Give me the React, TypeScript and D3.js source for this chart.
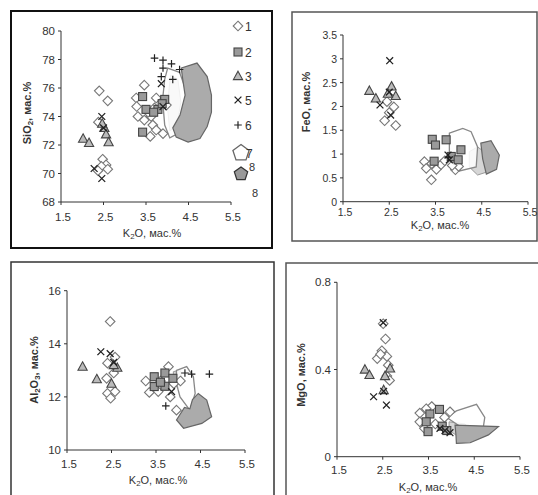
import React from 'react';
import * as d3 from 'd3';

type Pt = [number, number];

// K2O axis, shared by all four plots
const k2oTicks = [1.5, 2.5, 3.5, 4.5, 5.5];

// SiO2 vs K2O
const sio2Ticks = [68, 70, 72, 74, 76, 78, 80];
const sio2S1: Pt[] = [
  [2.40, 75.8], [2.60, 75.1], [2.38, 73.6], [2.48, 71.0], [2.56, 70.6], [2.45, 70.5], [2.60, 70.3], [2.37, 70.2],
  [3.46, 76.2], [3.27, 75.3], [3.28, 74.7], [3.31, 74.0], [3.46, 73.75], [3.62, 74.0], [3.66, 73.4], [3.70, 74.6],
  [3.74, 75.3], [3.74, 73.05], [3.90, 72.8], [3.60, 72.6], [3.98, 74.8], [3.55, 74.3],
];
const sio2S2: Pt[] = [[3.42, 75.4], [3.50, 74.5], [3.42, 72.9], [3.78, 74.5], [3.94, 75.2], [3.68, 74.3], [3.88, 74.9]];
const sio2S3: Pt[] = [[2.02, 72.45], [2.16, 72.15], [2.52, 73.2], [2.56, 72.75], [2.62, 72.2], [2.47, 73.5]];
const sio2S5: Pt[] = [[2.46, 74.0], [2.50, 73.2], [2.28, 70.35], [2.46, 69.65], [3.86, 76.3], [3.90, 74.7]];
const sio2S6: Pt[] = [[3.70, 78.1], [3.90, 77.95], [4.10, 77.7], [3.90, 77.4], [3.86, 76.8], [4.13, 76.6], [4.29, 77.3]];
const sio2P7: Pt[] = [[4.01, 77.4], [4.29, 77.1], [4.48, 75.5], [4.36, 73.75], [4.25, 72.8], [4.06, 72.5], [3.94, 73.4], [3.89, 75.2], [3.94, 76.6]];
const sio2P8a: Pt[] = [[4.08, 76.9], [4.25, 76.6], [4.32, 75.0], [4.22, 73.3], [4.06, 73.0], [4.00, 74.8]];
const sio2P8b: Pt[] = [
  [4.33, 77.4], [4.70, 77.75], [4.94, 76.8], [5.04, 75.5], [5.04, 74.3], [4.94, 73.3], [4.77, 72.45],
  [4.49, 72.2], [4.21, 72.55], [4.13, 73.2], [4.30, 74.1], [4.42, 75.5], [4.36, 76.7],
];

// FeO vs K2O
const feoTicks = [0, 0.5, 1, 1.5, 2, 2.5, 3, 3.5];
const feoS1: Pt[] = [
  [2.40, 1.70], [2.64, 1.60], [2.60, 1.99], [2.45, 2.10], [2.50, 1.87],
  [3.26, 0.84], [3.30, 0.70], [3.41, 0.46], [3.52, 0.68], [3.62, 0.78], [3.93, 0.67], [4.00, 0.74], [3.70, 0.86], [3.86, 0.76], [3.42, 0.80],
];
const feoS2: Pt[] = [[3.43, 1.31], [3.73, 1.30], [3.50, 1.19], [3.47, 0.85], [4.05, 1.09], [3.84, 0.95], [3.99, 0.88]];
const feoS3: Pt[] = [[2.07, 2.33], [2.21, 2.17], [2.55, 2.42], [2.64, 2.22], [2.47, 2.27]];
const feoS5: Pt[] = [[2.51, 2.96], [2.30, 2.03], [2.53, 1.82], [2.50, 2.30], [3.77, 0.98], [3.80, 0.88]];
const feoS6: Pt[] = [[3.78, 0.93]];
const feoP7: Pt[] = [[3.80, 1.44], [4.09, 1.54], [4.27, 1.47], [4.41, 1.15], [4.38, 0.73], [3.95, 0.63], [3.80, 0.88]];
const feoP8a: Pt[] = [[4.23, 1.05], [4.41, 1.15], [4.55, 1.05], [4.60, 0.62], [4.41, 0.56], [4.23, 0.73]];
const feoP8b: Pt[] = [[4.48, 1.23], [4.70, 1.28], [4.88, 0.98], [4.82, 0.68], [4.60, 0.58], [4.52, 0.90]];

// Al2O3 vs K2O
const al2o3Ticks = [10, 12, 14, 16];
const al2o3S1: Pt[] = [
  [2.47, 14.84], [2.41, 13.27], [2.58, 13.5], [2.39, 12.7], [2.41, 12.13], [2.48, 11.95], [2.58, 12.2], [2.55, 12.9],
  [3.27, 12.6], [3.35, 12.17], [3.78, 13.14], [3.82, 12.0], [3.96, 11.5], [3.60, 12.6], [3.55, 12.2], [3.90, 12.5], [4.05, 12.6],
];
const al2o3S2: Pt[] = [[3.46, 12.76], [3.70, 12.9], [3.46, 12.39], [3.70, 12.4], [3.88, 12.7], [3.60, 12.55]];
const al2o3S3: Pt[] = [[1.85, 13.14], [2.17, 12.67], [2.50, 12.5], [2.63, 13.1], [2.55, 13.2]];
const al2o3S5: Pt[] = [[2.26, 13.7], [2.47, 13.63], [2.55, 13.3], [3.85, 12.2]];
const al2o3S6: Pt[] = [[3.72, 11.66], [4.30, 12.86], [4.70, 12.86], [4.15, 12.9]];
const al2o3P7: Pt[] = [[3.96, 13.0], [4.19, 13.14], [4.34, 12.76], [4.38, 12.13], [4.26, 11.5], [4.04, 12.0], [3.96, 12.5]];
const al2o3P8a: Pt[] = [[3.89, 12.95], [4.04, 13.01], [4.10, 12.6], [4.00, 12.32], [3.89, 12.5]];
const al2o3P8b: Pt[] = [[3.96, 11.13], [4.14, 11.6], [4.26, 11.55], [4.32, 11.9], [4.45, 12.13], [4.64, 11.88], [4.75, 11.25], [4.53, 11.0], [4.12, 10.82]];

// MgO vs K2O
const mgoTicks = [0, 0.4, 0.8];
const mgoS1: Pt[] = [
  [2.51, 0.61], [2.56, 0.54], [2.48, 0.486], [2.38, 0.45], [2.59, 0.46], [2.62, 0.42], [2.59, 0.37], [2.65, 0.35], [2.45, 0.47],
  [3.31, 0.20], [3.57, 0.23], [3.31, 0.16], [3.41, 0.13], [3.97, 0.206], [3.85, 0.18], [3.65, 0.15], [3.45, 0.22],
];
const mgoS2: Pt[] = [[3.53, 0.196], [3.74, 0.217], [3.45, 0.16], [3.49, 0.115], [3.80, 0.14], [3.90, 0.12]];
const mgoS3: Pt[] = [[2.11, 0.40], [2.21, 0.375], [2.66, 0.405], [2.55, 0.37], [2.52, 0.306]];
const mgoS5: Pt[] = [[2.51, 0.615], [2.30, 0.275], [2.58, 0.237], [2.52, 0.30], [3.86, 0.12], [3.97, 0.11], [3.75, 0.13]];
const mgoP7: Pt[] = [[3.90, 0.18], [4.11, 0.21], [4.55, 0.24], [4.73, 0.18], [4.70, 0.138], [4.25, 0.13]];
const mgoP8a: Pt[] = [[3.95, 0.16], [4.30, 0.15], [4.40, 0.12], [4.10, 0.10], [3.95, 0.12]];
const mgoP8b: Pt[] = [[4.08, 0.145], [5.03, 0.138], [4.81, 0.10], [4.41, 0.064], [4.11, 0.061], [4.10, 0.10]];

const legendLabels = ['1', '2', '3', '5', '6', '7', '8'];

// axis title pieces: [text, isSubscript]
const sio2Name: [string, boolean][] = [['SiO', false], ['2', true], [', мас.%', false]];
const feoName: [string, boolean][] = [['FeO, мас.%', false]];
const al2o3Name: [string, boolean][] = [['Al', false], ['2', true], ['O', false], ['3', true], [', мас.%', false]];
const mgoName: [string, boolean][] = [['MgO, мас.%', false]];
const k2oName: [string, boolean][] = [['K', false], ['2', true], ['O, мас.%', false]];

const FONT = 'Arial, "Liberation Sans", sans-serif';

function Diamond({ x, y }) {
  const r = 4.8;
  return <path d={`M${x},${y - r}L${x + r},${y}L${x},${y + r}L${x - r},${y}Z`} fill="#fff" stroke="#777" strokeWidth={1.1} />;
}
function Square({ x, y }) {
  return <rect x={x - 4} y={y - 4} width={8} height={8} fill="#9a9a9a" stroke="#444" strokeWidth={1.1} />;
}
function Triangle({ x, y }) {
  return <path d={`M${x},${y - 4.8}L${x + 4.6},${y + 3.6}L${x - 4.6},${y + 3.6}Z`} fill="#bbb" stroke="#444" strokeWidth={1.1} />;
}
function Cross({ x, y }) {
  const r = 3.4;
  return <path d={`M${x - r},${y - r}L${x + r},${y + r}M${x + r},${y - r}L${x - r},${y + r}`} stroke="#222" strokeWidth={1.3} />;
}
function Plus({ x, y }) {
  const r = 3.8;
  return <path d={`M${x - r},${y}L${x + r},${y}M${x},${y - r}L${x},${y + r}`} stroke="#222" strokeWidth={1.2} />;
}

function pentagon(cx: number, cy: number, r: number) {
  return d3.range(5).map(i => {
    const a = -Math.PI / 2 + (i * 2 * Math.PI) / 5;
    return `${cx + r * Math.cos(a)},${cy + r * Math.sin(a)}`;
  }).join(' ');
}

function Rich({ parts, size }) {
  let shifted = false;
  return (
    <>
      {parts.map(([t, sub], i) => {
        let dy = 0;
        if (sub && !shifted) { dy = 2; shifted = true; }
        else if (!sub && shifted) { dy = -2; shifted = false; }
        return <tspan key={i} dy={dy} fontSize={sub ? size * 0.72 : size}>{t}</tspan>;
      })}
    </>
  );
}

function Panel({ cfg }) {
  const x = d3.scaleLinear().domain([1.5, 5.5]).range(cfg.xRange);
  const y = d3.scaleLinear().domain(cfg.yDomain).range(cfg.yRange);
  const [fx0, fy0, fx1, fy1] = cfg.frame;
  const line = d3.line<Pt>().x(d => x(d[0])).y(d => y(d[1])).curve(d3.curveLinearClosed);
  const ax = cfg.xRange[0];
  const ay = cfg.yRange[0];
  return (
    <g fontFamily={FONT}>
      <rect x={fx0} y={fy0} width={fx1 - fx0} height={fy1 - fy0} fill="#fff" stroke={cfg.frameColor} strokeWidth={cfg.frameWidth} />
      {/* polygons */}
      <path d={line(cfg.p8a)} fill="#d6d6d6" stroke="#999" strokeWidth={1} />
      <path d={line(cfg.p7)} fill="#fff" stroke="#888" strokeWidth={1.3} fillOpacity={0.85} />
      <path d={line(cfg.p8b)} fill="#ababab" stroke="#666" strokeWidth={1.2} />
      {/* points */}
      {cfg.s1.map((d, i) => <Diamond key={'a' + i} x={x(d[0])} y={y(d[1])} />)}
      {cfg.s2.map((d, i) => <Square key={'b' + i} x={x(d[0])} y={y(d[1])} />)}
      {cfg.s3.map((d, i) => <Triangle key={'c' + i} x={x(d[0])} y={y(d[1])} />)}
      {cfg.s5.map((d, i) => <Cross key={'d' + i} x={x(d[0])} y={y(d[1])} />)}
      {cfg.s6.map((d, i) => <Plus key={'e' + i} x={x(d[0])} y={y(d[1])} />)}
      {/* axes */}
      <g stroke="#333" strokeWidth={1}>
        <line x1={ax} x2={cfg.xRange[1]} y1={ay} y2={ay} />
        <line x1={ax} x2={ax} y1={ay} y2={cfg.yRange[1]} />
        {k2oTicks.map(t => <line key={t} x1={x(t)} x2={x(t)} y1={ay} y2={ay + 3} />)}
        {cfg.yTicks.map(t => <line key={t} x1={ax - 3} x2={ax} y1={y(t)} y2={y(t)} />)}
      </g>
      <g fill="#333" fontSize={cfg.tickSize}>
        {k2oTicks.map(t => (
          <text key={t} x={x(t) + 2} y={ay + cfg.xLabelDy} textAnchor="middle">{t.toFixed(1)}</text>
        ))}
        {cfg.yTicks.map(t => (
          <text key={t} x={ax - 6} y={y(t) + 4} textAnchor="end">{String(t)}</text>
        ))}
      </g>
      <text x={cfg.xTitle[0]} y={cfg.xTitle[1]} textAnchor="middle" fill="#333">
        <Rich parts={k2oName} size={11} />
      </text>
      <text transform={`translate(${cfg.yTitle[0]},${cfg.yTitle[1]}) rotate(-90)`} textAnchor="middle" fontWeight="bold" fill="#333">
        <Rich parts={cfg.yName} size={11} />
      </text>
    </g>
  );
}

function Legend() {
  const rows = [26, 52, 76, 100, 125];
  const mk = [Diamond, Square, Triangle, Cross, Plus];
  return (
    <g fontFamily={FONT} fontSize={12} fill="#333">
      {rows.map((ry, i) => {
        const M = mk[i];
        return (
          <g key={i}>
            <M x={238} y={ry} />
            <text x={245} y={ry + 4.5}>{legendLabels[i]}</text>
          </g>
        );
      })}
      <polygon points={pentagon(241, 153, 8.5)} fill="#fff" stroke="#666" strokeWidth={1.3} />
      <text x={246} y={158}>{legendLabels[5]}</text>
      <polygon points={pentagon(241, 174, 7)} fill="#999" stroke="#333" strokeWidth={1.3} />
      <text x={249} y={171} fontSize={11}>{legendLabels[6]}</text>
      <text x={252} y={197} fontSize={11}>{legendLabels[6]}</text>
    </g>
  );
}

const panels = [
  {
    frame: [11, 11, 272, 248], frameColor: '#111', frameWidth: 2,
    xRange: [61, 231], yRange: [202, 31], yDomain: [68, 80], yTicks: sio2Ticks, tickSize: 11.5,
    xLabelDy: 19, xTitle: [152, 237], yTitle: [31, 113], yName: sio2Name,
    s1: sio2S1, s2: sio2S2, s3: sio2S3, s5: sio2S5, s6: sio2S6, p7: sio2P7, p8a: sio2P8a, p8b: sio2P8b,
  },
  {
    frame: [292, 12, 537, 241], frameColor: '#555', frameWidth: 1.5,
    xRange: [343, 528], yRange: [201.7, 35], yDomain: [0, 3.5], yTicks: feoTicks, tickSize: 10.5,
    xLabelDy: 14, xTitle: [440, 229], yTitle: [310, 102], yName: feoName,
    s1: feoS1, s2: feoS2, s3: feoS3, s5: feoS5, s6: feoS6, p7: feoP7, p8a: feoP8a, p8b: feoP8b,
  },
  {
    frame: [11, 262, 274, 500], frameColor: '#333', frameWidth: 1.5,
    xRange: [67, 245], yRange: [450, 290.7], yDomain: [10, 16], yTicks: al2o3Ticks, tickSize: 11.5,
    xLabelDy: 18, xTitle: [158, 484], yTitle: [38, 370], yName: al2o3Name,
    s1: al2o3S1, s2: al2o3S2, s3: al2o3S3, s5: al2o3S5, s6: al2o3S6, p7: al2o3P7, p8a: al2o3P8a, p8b: al2o3P8b,
  },
  {
    frame: [286, 263, 540, 500], frameColor: '#555', frameWidth: 1.5,
    xRange: [337, 520], yRange: [456.7, 282.3], yDomain: [0, 0.8], yTicks: mgoTicks, tickSize: 11.5,
    xLabelDy: 17, xTitle: [428, 491], yTitle: [305, 375], yName: mgoName,
    s1: mgoS1, s2: mgoS2, s3: mgoS3, s5: mgoS5, s6: [], p7: mgoP7, p8a: mgoP8a, p8b: mgoP8b,
  },
];

export default function App() {
  return (
    <svg width={538} height={495} style={{ position: 'absolute', left: 0, top: 0, background: '#fff' }}>
      <rect width={538} height={495} fill="#fff" />
      {panels.map((p, i) => <Panel key={i} cfg={p} />)}
      <Legend />
    </svg>
  );
}
